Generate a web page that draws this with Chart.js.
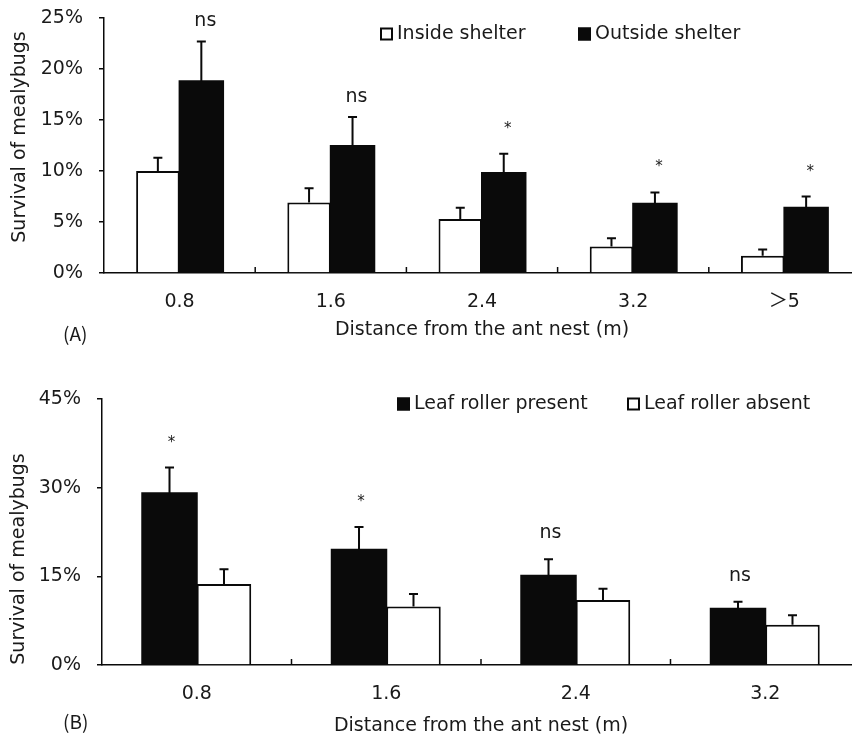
<!DOCTYPE html>
<html>
<head>
<meta charset="utf-8">
<script src="https://cdn.jsdelivr.net/npm/chart.js@4.4.1/dist/chart.umd.min.js"></script>
<style>
  html, body { margin: 0; padding: 0; background: #fff; overflow: hidden; }
  #page { position: relative; width: 852px; height: 738px; overflow: hidden; }
  #chartA { position: absolute; left: 0; top: 0; }
  #chartB { position: absolute; left: 0; top: 370px; }
  .panel {
    position: absolute;
    font-family: "Noto Sans CJK SC", sans-serif;
    font-size: 19px;
    line-height: 22px;
    color: #1a1a1a;
  }
</style>
</head>
<body>
<div id="page">
  <canvas id="chartA" width="860" height="345"></canvas>
  <canvas id="chartB" width="860" height="368"></canvas>
  <div class="panel" style="left:63px; top:322px;">(A)</div>
  <div class="panel" style="left:63px; top:710px;">(B)</div>
</div>

<script>
// -------------------------------
// Data (A): shelter
// -------------------------------
const distancesA = ["0.8", "1.6", "2.4", "3.2", "＞5"];
const insideMean = [10.0, 6.9, 5.3, 2.6, 1.7];
const insideErr = [1.3, 1.4, 1.1, 0.8, 0.6];
const outsideMean = [18.8, 12.45, 9.8, 6.8, 6.4];
const outsideErr = [3.9, 2.85, 1.9, 1.1, 1.1];
const signifA = ["ns", "ns", "*", "*", "*"];
const yMaxA = 25;
const yStepA = 5;

// -------------------------------
// Data (B): leaf roller
// -------------------------------
const distancesB = ["0.8", "1.6", "2.4", "3.2"];
const presentMean = [29.05, 19.5, 15.1, 9.5];
const presentErr = [4.35, 3.85, 2.8, 1.2];
const absentMean = [13.7, 9.9, 11.0, 6.8];
const absentErr = [2.5, 2.1, 1.9, 1.6];
const signifB = ["*", "*", "ns", "ns"];
const yMaxB = 45;
const yStepB = 15;

const INK = "#0a0a0a";
const TEXT = "#1a1a1a";
const FAMILY = 'DejaVu Sans, "Noto Sans CJK SC", sans-serif';
const Y_TITLE = "Survival of mealybugs";

// bar styles: black solid bars, white bars with a black outline
const solidBar = { backgroundColor: INK, borderColor: INK, borderWidth: 0, inflateAmount: 1 };
const openBar = { backgroundColor: "#ffffff", borderColor: INK, borderWidth: 2, borderSkipped: "start", inflateAmount: 0 };

// -------------------------------
// Error bars, significance marks, axis ticks, legend, y title
// -------------------------------
function makeDecor(cfg) {
  return {
    id: "decor",
    afterDatasetsDraw(chart) {
      const ctx = chart.ctx;
      const x = chart.scales.x;
      const y = chart.scales.y;
      ctx.save();

      // error bars (upper half only)
      ctx.strokeStyle = INK;
      ctx.lineWidth = 2;
      chart.data.datasets.forEach((ds, i) => {
        const meta = chart.getDatasetMeta(i);
        meta.data.forEach((bar, j) => {
          const top = y.getPixelForValue(ds.data[j] + ds.errors[j]);
          ctx.beginPath();
          ctx.moveTo(bar.x, bar.y);
          ctx.lineTo(bar.x, top);
          ctx.moveTo(bar.x - 4.5, top);
          ctx.lineTo(bar.x + 4.5, top);
          ctx.stroke();
        });
      });

      // significance labels above the marked series
      const sds = chart.data.datasets[cfg.sigDataset];
      const smeta = chart.getDatasetMeta(cfg.sigDataset);
      ctx.fillStyle = TEXT;
      ctx.textAlign = "center";
      ctx.textBaseline = "alphabetic";
      smeta.data.forEach((bar, j) => {
        const label = cfg.signif[j];
        const top = y.getPixelForValue(sds.data[j] + sds.errors[j]);
        const isStar = label === "*";
        ctx.font = (isStar ? "15px " : "19px ") + FAMILY;
        ctx.fillText(label, bar.x + cfg.sigShift, top - (isStar ? 21 : cfg.nsLift));
      });

      // small upward ticks between categories
      ctx.lineWidth = 1.5;
      for (let i = 0; i < chart.data.labels.length - 1; i++) {
        const bx = (x.getPixelForValue(i) + x.getPixelForValue(i + 1)) / 2;
        ctx.beginPath();
        ctx.moveTo(bx, y.bottom);
        ctx.lineTo(bx, y.bottom - 6);
        ctx.stroke();
      }

      // legend
      ctx.font = "19px " + FAMILY;
      ctx.textAlign = "left";
      ctx.textBaseline = "middle";
      chart.data.datasets.forEach((ds, i) => {
        const lx = cfg.legendX[i];
        const ly = cfg.legendY;
        ctx.fillStyle = ds.backgroundColor;
        ctx.fillRect(lx, ly - 6.5, 13, 13);
        ctx.strokeStyle = INK;
        ctx.lineWidth = 2;
        ctx.strokeRect(lx + 1, ly - 5.5, 11, 11);
        ctx.fillStyle = TEXT;
        ctx.fillText(ds.label, lx + 17, ly);
      });

      // rotated y axis title (sits off-centre in the original)
      ctx.translate(cfg.yTitleX, cfg.yTitleY);
      ctx.rotate(-Math.PI / 2);
      ctx.textAlign = "center";
      ctx.fillText(Y_TITLE, 0, 0);

      ctx.restore();
    },
  };
}

// -------------------------------
// Shared chart options
// -------------------------------
function buildOptions(cfg) {
  return {
    responsive: false,
    animation: false,
    devicePixelRatio: 1,
    layout: { padding: { top: cfg.padTop, left: 0, right: 0, bottom: 0 } },
    plugins: { legend: { display: false }, tooltip: { enabled: false } },
    datasets: { bar: { categoryPercentage: 0.575, barPercentage: 1 } },
    scales: {
      x: {
        z: 1,
        grid: { display: false },
        border: { display: true, color: INK, width: 1.5 },
        ticks: { color: TEXT, padding: cfg.xTickPad, font: { family: FAMILY, size: 19 } },
        title: {
          display: true,
          text: "Distance from the ant nest (m)",
          color: TEXT,
          font: { family: FAMILY, size: 19 },
          padding: { top: 0, bottom: cfg.xTitlePad },
        },
        afterFit(scale) {
          scale.height = cfg.xHeight;
          scale.paddingLeft = 0;
          scale.paddingRight = 0;
        },
      },
      y: {
        min: 0,
        max: cfg.yMax,
        grid: { drawOnChartArea: false, drawTicks: true, tickLength: 5, color: INK, tickColor: INK, lineWidth: 1.5 },
        border: { display: true, color: INK, width: 1.5 },
        ticks: {
          stepSize: cfg.yStep,
          color: TEXT,
          padding: 16,
          font: { family: FAMILY, size: 19 },
          callback: (v) => v + "%",
        },
        afterFit(scale) {
          scale.width = cfg.yWidth;
          scale.paddingTop = 0;
          scale.paddingBottom = 0;
        },
      },
    },
  };
}

// -------------------------------
// Chart A
// -------------------------------
new Chart(document.getElementById("chartA"), {
  type: "bar",
  data: {
    labels: distancesA,
    datasets: [
      { label: "Inside shelter", data: insideMean, errors: insideErr, ...openBar },
      { label: "Outside shelter", data: outsideMean, errors: outsideErr, ...solidBar },
    ],
  },
  options: buildOptions({ padTop: 18, xHeight: 72, xTickPad: 10, xTitlePad: 4, yWidth: 104, yMax: yMaxA, yStep: yStepA }),
  plugins: [makeDecor({
    sigDataset: 1, signif: signifA, sigShift: 4, nsLift: 15,
    legendX: [380, 578], legendY: 34, yTitleX: 20, yTitleY: 137,
  })],
});

// -------------------------------
// Chart B
// -------------------------------
new Chart(document.getElementById("chartB"), {
  type: "bar",
  data: {
    labels: distancesB,
    datasets: [
      { label: "Leaf roller present", data: presentMean, errors: presentErr, ...solidBar },
      { label: "Leaf roller absent", data: absentMean, errors: absentErr, ...openBar },
    ],
  },
  options: buildOptions({ padTop: 29, xHeight: 73, xTickPad: 10, xTitlePad: 1, yWidth: 102, yMax: yMaxB, yStep: yStepB }),
  plugins: [makeDecor({
    sigDataset: 0, signif: signifB, sigShift: 2, nsLift: 21,
    legendX: [397, 627], legendY: 34, yTitleX: 19, yTitleY: 189,
  })],
});
</script>
</body>
</html>
